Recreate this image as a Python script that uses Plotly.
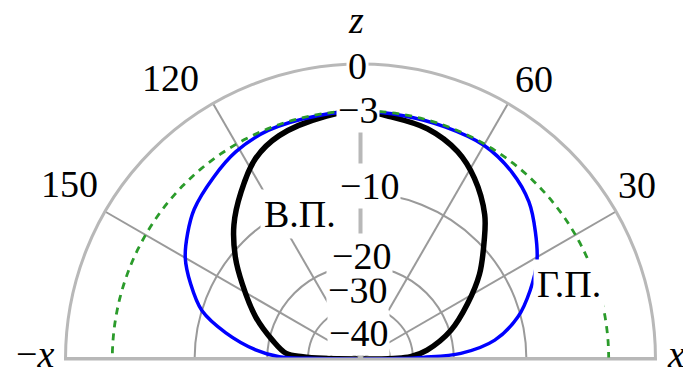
import numpy as np
import plotly.graph_objects as go

# Page and polar-frame geometry in pixels
W, H = 683, 369
CX, CY, RPX = 360.5, 359.0, 295.0

# Vertical-plane pattern (В.П.): angle from +x towards z (deg), level (dB)
vp_theta = [0, 1, 2.6, 7.6, 17.6, 27.2, 35.5, 43.6, 49.3, 57.8, 64.9, 73.8, 83.8, 90,
            98, 110, 117.6, 125.6, 133.3, 140.9, 147.6, 158.2, 167.9, 175.7, 177.7, 179, 180]
vp_db = [-80, -38, -30.8, -25.7, -19.7, -15.6, -12.2, -9.5, -7.6, -5.6, -4.4, -3.6, -3.25, -3.0,
         -3.2, -3.75, -4.6, -6.3, -8.15, -10.5, -12.95, -16.7, -20.6, -23.9, -28.3, -36, -80]

# Horizontal-plane pattern (Г.П.)
gp_theta = [0, 0.7, 1.5, 3.2, 8, 15, 22, 29, 36, 43, 51, 60, 70, 80, 90,
            100, 112, 121, 129, 138, 144, 150, 156, 163, 169, 175, 178.4, 179.3, 180]
gp_db = [-80, -36, -27, -18.7, -13.5, -10.3, -8.3, -6.6, -5.4, -4.3, -3.55, -3.1, -3.08, -3.08, -3.05,
         -3.08, -3.12, -3.45, -4.05, -4.8, -5.6, -6.55, -8.0, -10.0, -13.3, -17.9, -22.4, -30, -80]

# Half-power reference level
ref_db = -3.0
ref_theta = list(range(0, 181, 2))

# Radial grid levels and their labels
grid_db = [0, -10, -20, -30, -40]
radial_labels = [("0", 0, -3.5, -1.5), ("−3", -3, -2.5, 0.8), ("−10", -10, 8.5, 7.0),
                 ("−40", -40, -2.5, -3.0), ("−30", -30, -3.0, 17.0), ("−20", -20, 0.5, 10.0)]
# Angular labels: text, angle, pixel offsets from the outer circle
angle_labels = [("30", 30, 21.5, 27), ("60", 60, 25.5, 25), ("120", 120, -42.5, 26),
                ("150", 150, -35.5, 27.5), ("<i>x</i>", 0, 20.5, 5),
                ("−<i>x</i>", 180, -30.5, 5), ("<i>z</i>", 90, -5, 44)]
# Curve captions: text, radius (fraction of frame), angle
curve_labels = [("В.П.", 0.534, 112.6), ("Г.П.", 0.751, 19.8)]


def rad(db):
    """Radial position: fourth root of power, 0 dB on the outer circle."""
    return 10 ** (np.asarray(db, dtype=float) / 40.0)


dom_x = [(CX - RPX) / W, (CX + RPX) / W]
dom_y = [(H - CY) / H, (H - CY + RPX) / H]

AXIS_GREY = "#b8b8b8"
GRID_GREY = "#9a9a9a"
FONT = "Liberation Serif"
FSIZE = 38

fig = go.Figure()

# x and z axes
fig.add_trace(go.Scatterpolar(r=[1, 0, 1], theta=[180, 180, 0], mode="lines",
                              line=dict(color=AXIS_GREY, width=4), hoverinfo="skip"))
fig.add_trace(go.Scatterpolar(r=[0, 1], theta=[90, 90], mode="lines",
                              line=dict(color=AXIS_GREY, width=4), hoverinfo="skip"))

# Patterns
fig.add_trace(go.Scatterpolar(r=rad(vp_db), theta=vp_theta, mode="lines", name="В.П.",
                              line=dict(color="black", width=5.5, shape="spline", smoothing=1.0)))
fig.add_trace(go.Scatterpolar(r=rad(gp_db), theta=gp_theta, mode="lines", name="Г.П.",
                              line=dict(color="#0000ff", width=3.5, shape="spline", smoothing=1.0)))
fig.add_trace(go.Scatterpolar(r=rad([ref_db] * len(ref_theta)), theta=ref_theta, mode="lines",
                              name="−3 dB", line=dict(color="#2b9b2b", width=2.8, dash="7px,6px")))

# Invisible cartesian frame sharing the polar frame, used to anchor text
fig.add_trace(go.Scatter(x=[None], y=[None], xaxis="x", yaxis="y", hoverinfo="skip"))

annotations = []
for text, db, dx, dy in radial_labels:
    annotations.append(dict(x=0, y=float(rad(db)), text=text, xshift=dx, yshift=dy,
                            bgcolor="white", borderpad=1))
for text, ang, dx, dy in angle_labels:
    a = np.deg2rad(ang)
    annotations.append(dict(x=float(np.cos(a)), y=float(np.sin(a)), text=text,
                            xshift=dx, yshift=dy))
for text, rr, ang in curve_labels:
    a = np.deg2rad(ang)
    annotations.append(dict(x=float(rr * np.cos(a)), y=float(rr * np.sin(a)), text=text,
                            bgcolor="white", borderpad=3))
for ann in annotations:
    ann.update(xref="x", yref="y", showarrow=False,
               font=dict(family=FONT, size=FSIZE, color="black"))

fig.update_layout(
    width=W, height=H, autosize=False,
    margin=dict(l=0, r=0, t=0, b=0),
    paper_bgcolor="white", plot_bgcolor="rgba(0,0,0,0)",
    showlegend=False,
    polar=dict(
        domain=dict(x=dom_x, y=dom_y),
        sector=[0, 180],
        bgcolor="white",
        radialaxis=dict(range=[0, 1], tickvals=[float(v) for v in rad(grid_db)],
                        showticklabels=False, ticks="", showline=False,
                        gridcolor=GRID_GREY, gridwidth=1.6),
        angularaxis=dict(direction="counterclockwise", rotation=0,
                         tickvals=[0, 30, 60, 90, 120, 150, 180],
                         showticklabels=False, ticks="",
                         showline=True, linecolor=AXIS_GREY, linewidth=3,
                         gridcolor=GRID_GREY, gridwidth=1.6),
    ),
    xaxis=dict(domain=dom_x, range=[-1, 1], visible=False, fixedrange=True),
    yaxis=dict(domain=dom_y, range=[0, 1], visible=False, fixedrange=True),
    annotations=annotations,
)

fig.write_html("out.html")
